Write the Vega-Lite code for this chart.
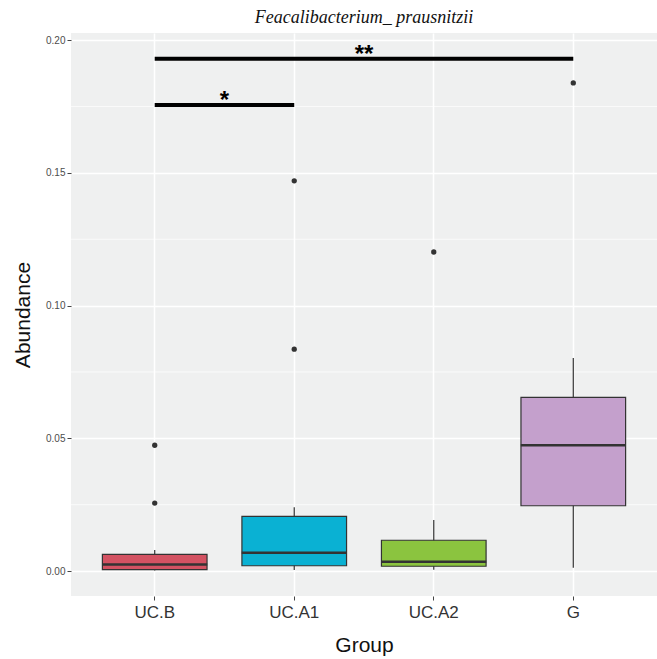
{
  "$schema": "https://vega.github.io/schema/vega-lite/v6.json",
  "autosize": "none",
  "width": 586,
  "height": 563,
  "padding": {"left": 71, "top": 33, "right": 0, "bottom": 63},
  "background": "white",
  "title": {
    "text": "Feacalibacterium_ prausnitzii",
    "font": "Liberation Serif",
    "fontStyle": "italic",
    "fontWeight": "normal",
    "fontSize": 18,
    "color": "#111111",
    "offset": 6
  },
  "config": {
    "view": {"fill": "#EFF0F0", "stroke": null},
    "axis": {
      "domain": false,
      "gridColor": "white",
      "tickColor": "#444444",
      "tickSize": 4,
      "labelColor": "#4D4D4D",
      "labelFont": "Liberation Sans",
      "titleFont": "Liberation Sans",
      "titleFontWeight": "normal",
      "titleColor": "#111111"
    }
  },
  "datasets": {
    "boxes": [
      {"Group": "UC.B", "lower": 0.0002, "q1": 0.0005, "median": 0.0025, "q3": 0.0063, "upper": 0.0079},
      {"Group": "UC.A1", "lower": 0.0004, "q1": 0.002, "median": 0.0069, "q3": 0.0206, "upper": 0.024},
      {"Group": "UC.A2", "lower": 0.0005, "q1": 0.0018, "median": 0.0035, "q3": 0.0116, "upper": 0.0192},
      {"Group": "G", "lower": 0.0012, "q1": 0.0246, "median": 0.0474, "q3": 0.0654, "upper": 0.0803}
    ],
    "outliers": [
      {"Group": "UC.B", "Abundance": 0.0474},
      {"Group": "UC.B", "Abundance": 0.0256},
      {"Group": "UC.A1", "Abundance": 0.147},
      {"Group": "UC.A1", "Abundance": 0.0836},
      {"Group": "UC.A2", "Abundance": 0.1202},
      {"Group": "G", "Abundance": 0.1839}
    ],
    "sig": [
      {"from": "UC.B", "to": "G", "y": 0.193, "label": "**", "anchor": "UC.A1", "ly": 0.1898},
      {"from": "UC.B", "to": "UC.A1", "y": 0.1756, "label": "*", "anchor": "UC.B", "ly": 0.1724}
    ],
    "minor": [
      {"v": 0.025}, {"v": 0.075}, {"v": 0.125}, {"v": 0.175}
    ]
  },
  "layer": [
    {
      "data": {"name": "minor"},
      "mark": {"type": "rule", "color": "white", "strokeWidth": 0.7},
      "encoding": {
        "y": {"field": "v", "type": "quantitative", "scale": {"domain": [-0.0094, 0.2027], "nice": false, "zero": false}}
      }
    },
    {
      "data": {"name": "boxes"},
      "mark": {"type": "rule", "color": "#333333", "strokeWidth": 1.2},
      "encoding": {
        "x": {
          "field": "Group", "type": "nominal",
          "scale": {"type": "band", "domain": ["UC.B", "UC.A1", "UC.A2", "G"], "paddingInner": 0.25, "paddingOuter": 0.225},
          "axis": {"title": "Group", "labelFontSize": 17, "labelColor": "#333333", "titleFontSize": 21, "grid": true, "gridWidth": 1.5, "labelPadding": 4, "titlePadding": 14, "labelAngle": 0}
        },
        "y": {
          "field": "lower", "type": "quantitative",
          "scale": {"domain": [-0.0094, 0.2027], "nice": false, "zero": false},
          "axis": {"title": "Abundance", "values": [0, 0.05, 0.1, 0.15, 0.2], "format": ".2f", "labelFontSize": 10, "titleFontSize": 21, "gridWidth": 1.5, "titlePadding": 12}
        },
        "y2": {"field": "upper"}
      }
    },
    {
      "data": {"name": "boxes"},
      "mark": {"type": "bar", "stroke": "#333333", "strokeWidth": 1.2},
      "encoding": {
        "x": {"field": "Group", "type": "nominal"},
        "y": {"field": "q1", "type": "quantitative"},
        "y2": {"field": "q3"},
        "color": {
          "field": "Group", "type": "nominal",
          "scale": {"domain": ["UC.B", "UC.A1", "UC.A2", "G"], "range": ["#D35262", "#0AB1D3", "#8BC43F", "#C4A0CC"]},
          "legend": null
        }
      }
    },
    {
      "data": {"name": "boxes"},
      "mark": {"type": "tick", "color": "#333333", "thickness": 2.5, "size": 105, "opacity": 1},
      "encoding": {
        "x": {"field": "Group", "type": "nominal"},
        "y": {"field": "median", "type": "quantitative"}
      }
    },
    {
      "data": {"name": "outliers"},
      "mark": {"type": "circle", "color": "#333333", "size": 28, "opacity": 1},
      "encoding": {
        "x": {"field": "Group", "type": "nominal"},
        "y": {"field": "Abundance", "type": "quantitative"}
      }
    },
    {
      "data": {"name": "sig"},
      "mark": {"type": "rule", "color": "black", "strokeWidth": 4},
      "encoding": {
        "x": {"field": "from", "type": "nominal"},
        "x2": {"field": "to"},
        "y": {"field": "y", "type": "quantitative"}
      }
    },
    {
      "data": {"name": "sig"},
      "mark": {"type": "text", "color": "black", "font": "Liberation Sans", "fontWeight": "bold", "fontSize": 24, "baseline": "bottom"},
      "encoding": {
        "x": {"field": "anchor", "type": "nominal", "bandPosition": 1.16667},
        "y": {"field": "ly", "type": "quantitative"},
        "text": {"field": "label"}
      }
    }
  ]
}
